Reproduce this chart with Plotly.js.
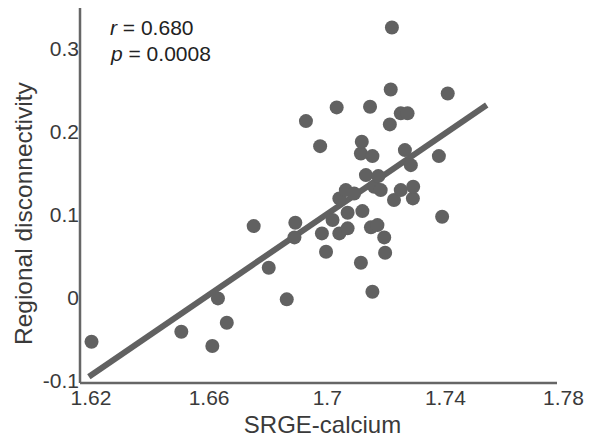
<!DOCTYPE html>
<html>
<head>
<meta charset="utf-8">
<script src="https://cdn.plot.ly/plotly-3.0.1.min.js"></script>
<style>html,body{margin:0;padding:0;background:#fff;}#chart{width:597px;height:441px;}</style>
</head>
<body>
<div id="chart"></div>
<script>
// SRGE-calcium (x) vs regional disconnectivity (y)
var srgeCalcium = [
  1.6202, 1.6506, 1.6611, 1.6630, 1.6660, 1.6751, 1.6802, 1.6863, 1.6889, 1.6892,
  1.6928, 1.6976, 1.6982, 1.6996, 1.7018, 1.7032, 1.7041, 1.7041, 1.7063, 1.7069,
  1.7069, 1.7091, 1.7114, 1.7114, 1.7117, 1.7119, 1.7131, 1.7145, 1.7148, 1.7153,
  1.7153, 1.7159, 1.7170, 1.7173, 1.7181, 1.7193, 1.7196, 1.7212, 1.7215, 1.7219,
  1.7226, 1.7249, 1.7249, 1.7263, 1.7272, 1.7283, 1.7290, 1.7291, 1.7378, 1.7389,
  1.7408
];
var disconnectivity = [
  -0.0532, -0.0412, -0.0584, -0.0010, -0.0304, 0.0861, 0.0359, -0.0022, 0.0725, 0.0901,
  0.2127, 0.1825, 0.0773, 0.0552, 0.0934, 0.2292, 0.1195, 0.0773, 0.1295, 0.1022,
  0.0834, 0.1255, 0.0419, 0.1737, 0.1877, 0.1042, 0.1476, 0.2299, 0.0846, 0.0070,
  0.1705, 0.1335, 0.0873, 0.1464, 0.1295, 0.0725, 0.0540, 0.2087, 0.2508, 0.3255,
  0.1175, 0.2220, 0.1295, 0.1777, 0.2220, 0.1596, 0.1195, 0.1335, 0.1705, 0.0973,
  0.2460
];
// fitted regression line end points
var fitX = [1.6193, 1.7540];
var fitY = [-0.0954, 0.2320];

var xTickVals = [1.62, 1.66, 1.70, 1.74, 1.78];
var xTickText = ["1.62", "1.66", "1.7", "1.74", "1.78"];
var yTickVals = [-0.1, 0, 0.1, 0.2, 0.3];
var yTickText = ["-0.1", "0", "0.1", "0.2", "0.3"];

var xTitle = "SRGE-calcium";
var yTitle = "Regional disconnectivity";
var statR = "0.680";
var statP = "0.0008";

var gray = "#616161";
var fontFam = "Liberation Sans, Arial, Helvetica, sans-serif";

var traces = [
  {
    x: fitX, y: fitY, mode: "lines", type: "scatter",
    line: {color: gray, width: 6}, hoverinfo: "skip", showlegend: false
  },
  {
    x: srgeCalcium, y: disconnectivity, mode: "markers", type: "scatter",
    marker: {color: gray, size: 14, line: {width: 0}}, showlegend: false
  }
];

var layout = {
  width: 597, height: 441,
  margin: {l: 80, r: 32, t: 8, b: 58, pad: 0},
  paper_bgcolor: "#ffffff", plot_bgcolor: "#ffffff",
  font: {family: fontFam, color: "#333333", size: 21},
  showlegend: false,
  xaxis: {
    range: [1.6163, 1.7805], showgrid: false, zeroline: false,
    showline: false, ticks: "",
    tickvals: xTickVals, ticktext: xTickText,
    tickfont: {size: 21, color: "#3a3a3a"},
    title: {text: xTitle, font: {size: 24, color: "#3a3a3a"}, standoff: 8}
  },
  yaxis: {
    range: [-0.103, 0.349], showgrid: false, zeroline: false,
    showline: false, ticks: "",
    tickvals: yTickVals, ticktext: yTickText,
    tickfont: {size: 21, color: "#3a3a3a"},
    ticklabelstandoff: 0
  },
  shapes: [
    {type: "line", xref: "paper", yref: "paper", x0: 0, x1: 0.9835, y0: 0, y1: 0,
     line: {color: "#666666", width: 2.5}},
    {type: "line", xref: "paper", yref: "paper", x0: 0, x1: 0, y0: 0, y1: 1,
     line: {color: "#666666", width: 2.5}}
  ],
  annotations: [
    {xref: "paper", yref: "paper", x: -0.1175, y: 0.4533, xanchor: "center", yanchor: "middle",
     textangle: -90, showarrow: false, text: yTitle, font: {size: 24.5, color: "#3a3a3a"}},
    {xref: "paper", yref: "paper", x: 0.0577, y: 0.949, xanchor: "left", yanchor: "middle",
     showarrow: false, text: "<i>r</i> = " + statR, font: {size: 21, color: "#222222"}},
    {xref: "paper", yref: "paper", x: 0.0577, y: 0.88, xanchor: "left", yanchor: "middle",
     showarrow: false, text: "<i>p</i> = " + statP, font: {size: 21, color: "#222222"}}
  ]
};

Plotly.newPlot("chart", traces, layout, {displayModeBar: false, staticPlot: true});
</script>
</body>
</html>
